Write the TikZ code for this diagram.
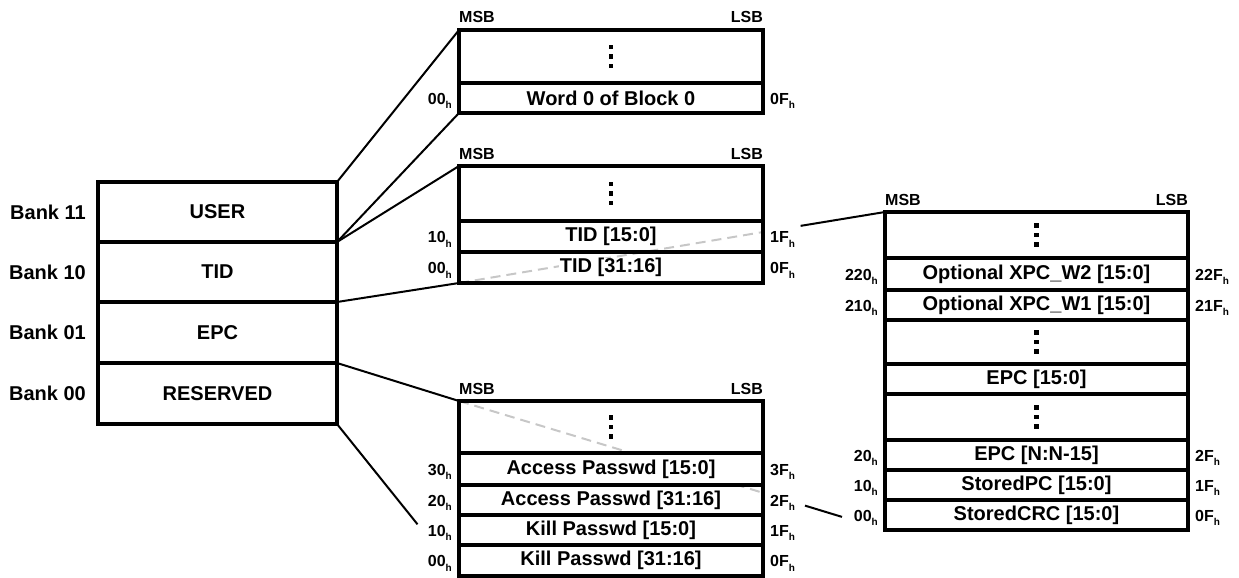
\documentclass[tikz,border=0pt]{standalone}
\usepackage{fontspec}
\setmainfont{Liberation Sans}
\usetikzlibrary{calc}
\newcommand\hsub{\raisebox{-4.5pt}{\fontsize{10}{10}\selectfont h}}
\tikzset{
 cell/.style={draw, line width=3.5pt, inner sep=0pt, outer sep=0pt},
 bankcell/.style={draw, line width=4pt, inner sep=0pt, outer sep=0pt, font=\fontsize{20}{24}\selectfont\bfseries},
 celltxt/.style={fill=white, inner sep=0.5pt, font=\fontsize{20}{24}\selectfont\bfseries},
 addr/.style={font=\fontsize{16}{18}\selectfont\bfseries, inner sep=0pt},
 msbtxt/.style={font=\fontsize{16}{18}\selectfont\bfseries, inner sep=0pt},
 banktxt/.style={font=\fontsize{20}{24}\selectfont\bfseries, inner sep=0pt},
 conn/.style={line width=2pt},
 hiddenline/.style={line width=2pt, draw=black!22, dash pattern=on 10pt off 6pt},
}
% name, xl, yt, xr, yb, text
\newcommand\cellrow[6]{%
 \node[cell, minimum width={#4-#2}, minimum height={#5-#3}] (#1) at ({(#2+#4)/2},{(#3+#5)/2}) {};
 \node[celltxt] (#1t) at (#1.center) {#6};}
\newcommand\dotscell[5]{%
 \node[cell, minimum width={#4-#2}, minimum height={#5-#3}] (#1) at ({(#2+#4)/2},{(#3+#5)/2}) {};
 \foreach \dy in {-9.5,0,9.5}{\fill ($(#1.center)+(-2.3,\dy-2.3)$) rectangle ++(4.6,4.6);}}
% name, left text, right text
\newcommand\addrs[3]{%
 \node[addr, anchor=base east] (#1L) at ($(#1.west)+(-7,6)$) {#2\hsub};
 \node[addr, anchor=base west] (#1R) at ($(#1.east)+(7,6)$) {#3\hsub};}
\newcommand\msblsb[1]{%
 \node[msbtxt, anchor=base west] (#1M) at ($(#1.north west)+(0,-7)$) {MSB};
 \node[msbtxt, anchor=base east] (#1S) at ($(#1.north east)+(0,-7)$) {LSB};}
\begin{document}
\begin{tikzpicture}[x=1pt,y=-1pt]
\useasboundingbox (0,0) rectangle (1239,578);
% ---- coordinates of bank box and block corners (for connectors, drawn first)
\coordinate (bUne) at (337,182);
\coordinate (bUse) at (337,242);
\coordinate (bTse) at (337,302);
\coordinate (bEse) at (337,363);
\coordinate (bRse) at (337,424);
\coordinate (uNW) at (459,30);
\coordinate (uSW) at (459,113);
\coordinate (tNW) at (459,166);
\coordinate (tSW) at (459,283);
\coordinate (rNW) at (459,401);
\coordinate (rSW) at (459,576);
\coordinate (eNW) at (885,212);
\coordinate (eSW) at (885,530);
% ---- connectors
\draw[conn] (bUne) -- (uNW);
\draw[conn] (bUse) -- (uSW);
\draw[conn] (bUse) -- (tNW);
\draw[conn] (bTse) -- (tSW);
\draw[hiddenline] (tSW) -- ($(bTse)!0.778!(eNW)$);
\draw[conn] ($(bTse)!0.846!(eNW)$) -- (eNW);
\draw[conn] (bEse) -- (rNW);
\draw[hiddenline] (rNW) -- ($(bEse)!0.7774!(eSW)$);
\draw[conn] ($(bEse)!0.854!(eSW)$) -- ($(bEse)!0.9215!(eSW)$);
\coordinate (rEnd) at ($(bRse)!0.66!(rSW)$);
\draw[conn] (bRse) -- (rEnd);
% ---- bank box
\node[bankcell, minimum width=239, minimum height=60] (bankUser) at (217.5,212) {USER};
\node[bankcell, minimum width=239, minimum height=60] (bankTID) at (217.5,272) {TID};
\node[bankcell, minimum width=239, minimum height=61] (bankEPC) at (217.5,332.5) {EPC};
\node[bankcell, minimum width=239, minimum height=61] (bankRes) at (217.5,393.5) {RESERVED};
\node[banktxt, anchor=east] (lbU) at ($(bankUser.west)+(-12,0)$) {Bank 11};
\node[banktxt, anchor=east] (lbT) at ($(bankTID.west)+(-12,0)$) {Bank 10};
\node[banktxt, anchor=east] (lbE) at ($(bankEPC.west)+(-12,0)$) {Bank 01};
\node[banktxt, anchor=east] (lbR) at ($(bankRes.west)+(-12,0)$) {Bank 00};
% ---- USER block
\dotscell{uDots}{459}{30}{763}{83}
\cellrow{uW0}{459}{83}{763}{113}{Word 0 of Block 0}
\addrs{uW0}{00}{0F}
\msblsb{uDots}
% ---- TID block
\dotscell{tDots}{459}{166}{763}{221}
\cellrow{tid1}{459}{221}{763}{252}{TID [15:0]}
\cellrow{tid2}{459}{252}{763}{283}{TID [31:16]}
\addrs{tid1}{10}{1F}
\addrs{tid2}{00}{0F}
\msblsb{tDots}
% ---- RESERVED block
\dotscell{rDots}{459}{401}{763}{453}
\fill[white] (459,453) rectangle (763,485);
\cellrow{acc1}{459}{453}{763}{485}{Access Passwd [15:0]}
\cellrow{acc2}{459}{485}{763}{515}{Access Passwd [31:16]}
\cellrow{kil1}{459}{515}{763}{545}{Kill Passwd [15:0]}
\cellrow{kil2}{459}{545}{763}{576}{Kill Passwd [31:16]}
\addrs{acc1}{30}{3F}
\addrs{acc2}{20}{2F}
\addrs{kil1}{10}{1F}
\addrs{kil2}{00}{0F}
\msblsb{rDots}
% ---- EPC block
\dotscell{eDots1}{885}{212}{1188}{258}
\cellrow{xw2}{885}{258}{1188}{290}{Optional XPC\_W2 [15:0]}
\cellrow{xw1}{885}{290}{1188}{320}{Optional XPC\_W1 [15:0]}
\dotscell{eDots2}{885}{320}{1188}{364}
\cellrow{epc0}{885}{364}{1188}{394}{EPC [15:0]}
\dotscell{eDots3}{885}{394}{1188}{440}
\cellrow{epcN}{885}{440}{1188}{470}{EPC [N:N-15]}
\cellrow{spc}{885}{470}{1188}{500}{StoredPC [15:0]}
\cellrow{crc}{885}{500}{1188}{530}{StoredCRC [15:0]}
\addrs{xw2}{220}{22F}
\addrs{xw1}{210}{21F}
\addrs{epcN}{20}{2F}
\addrs{spc}{10}{1F}
\addrs{crc}{00}{0F}
\msblsb{eDots1}
\end{tikzpicture}
\end{document}
